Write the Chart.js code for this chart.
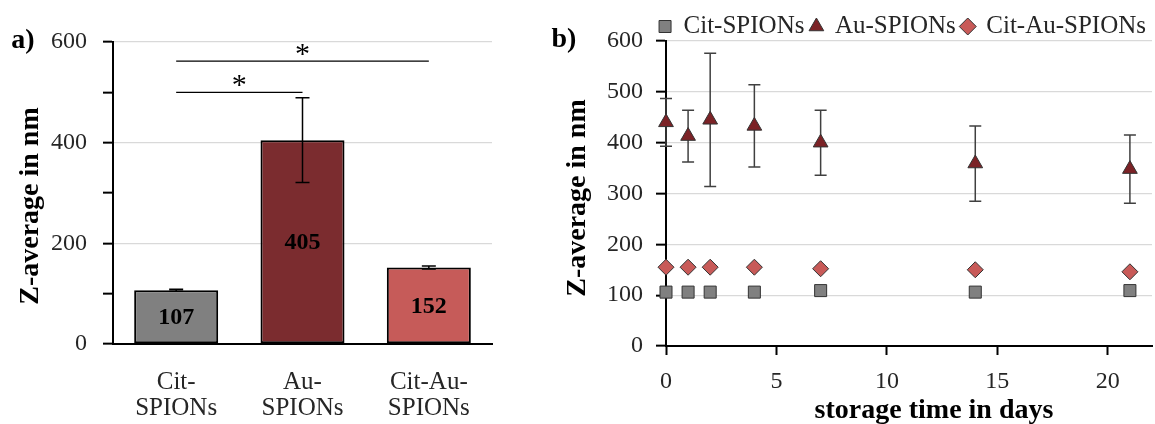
<!DOCTYPE html>
<html>
<head>
<meta charset="utf-8">
<script src="https://cdn.jsdelivr.net/npm/chart.js@4.4.1/dist/chart.umd.min.js"></script>
<style>
  html, body { margin: 0; padding: 0; background: #fff; overflow: hidden; }
  #wrap { position: relative; width: 1155px; height: 424px; }
  #panelA { position: absolute; left: 0; top: 0; width: 540px; height: 424px; }
  #panelB { position: absolute; left: 540px; top: 0; width: 615px; height: 424px; }
</style>
</head>
<body>
<div id="wrap">
  <div id="panelA"><canvas id="chartA"></canvas></div>
  <div id="panelB"><canvas id="chartB"></canvas></div>
</div>
<script>
const SERIF = '"Liberation Serif", "Times New Roman", serif';

// ---- panel a: mean hydrodynamic size per sample ----
const sampleNames = [['Cit-', 'SPIONs'], ['Au-', 'SPIONs'], ['Cit-Au-', 'SPIONs']];
const sampleMeans = [107, 405, 152];
const sampleErrors = [2, 84, 3];
const sampleColors = ['#808080', '#7b2c2f', '#c65b59'];
const barAxisLabels = [0, 200, 400, 600];
const significancePairs = [[0, 1], [0, 2]];
const significanceLevels = [500, 562];

// ---- panel b: size during storage ----
const storageDays = [0, 1, 2, 4, 7, 14, 21];
const citSeries = [106, 106, 106, 106, 109, 106, 109];
const auSeries = [440, 413, 445, 433, 400, 359, 348];
const auErrors = [47, 51, 131, 81, 64, 74, 67];
const citAuSeries = [155, 155, 155, 155, 152, 150, 146];
const seriesNames = ['Cit-SPIONs', 'Au-SPIONs', 'Cit-Au-SPIONs'];

const toPoints = (ys) => storageDays.map((d, i) => ({ x: d, y: ys[i] }));

// free text (panel letters, axis titles)
function captions(items) {
  return {
    id: 'captions',
    afterDraw(chart) {
      const ctx = chart.ctx;
      items.forEach(it => {
        ctx.save();
        ctx.font = it.font;
        ctx.fillStyle = '#000';
        ctx.textAlign = 'center';
        ctx.textBaseline = 'middle';
        ctx.translate(it.x, it.y);
        if (it.rot) ctx.rotate(it.rot);
        ctx.fillText(it.text, 0, 0);
        ctx.restore();
      });
    }
  };
}

const barExtras = {
  id: 'barExtras',
  afterDatasetsDraw(chart) {
    const ctx = chart.ctx;
    const xs = chart.scales.x, ys = chart.scales.y;
    const meta = chart.getDatasetMeta(0);
    ctx.save();
    // error bars
    ctx.strokeStyle = '#000';
    ctx.lineWidth = 1.5;
    meta.data.forEach((bar, i) => {
      const top = ys.getPixelForValue(sampleMeans[i] + sampleErrors[i]);
      const bot = ys.getPixelForValue(sampleMeans[i] - sampleErrors[i]);
      ctx.beginPath();
      ctx.moveTo(bar.x, top); ctx.lineTo(bar.x, bot);
      ctx.moveTo(bar.x - 7, top); ctx.lineTo(bar.x + 7, top);
      ctx.moveTo(bar.x - 7, bot); ctx.lineTo(bar.x + 7, bot);
      ctx.stroke();
    });
    // value labels inside the bars
    ctx.fillStyle = '#000';
    ctx.font = 'bold 24px ' + SERIF;
    ctx.textAlign = 'center';
    ctx.textBaseline = 'middle';
    meta.data.forEach((bar, i) => {
      ctx.fillText(String(sampleMeans[i]), bar.x, (bar.y + bar.base) / 2 + 1);
    });
    // significance brackets
    ctx.lineWidth = 1.3;
    ctx.font = '30px ' + SERIF;
    ctx.textBaseline = 'alphabetic';
    significancePairs.forEach((pair, k) => {
      const x1 = xs.getPixelForValue(pair[0]);
      const x2 = xs.getPixelForValue(pair[1]);
      const y = ys.getPixelForValue(significanceLevels[k]);
      ctx.beginPath();
      ctx.moveTo(x1, y); ctx.lineTo(x2, y);
      ctx.stroke();
      ctx.fillText('*', (x1 + x2) / 2, y + 2);
    });
    ctx.restore();
  }
};

new Chart(document.getElementById('chartA'), {
  type: 'bar',
  data: {
    labels: sampleNames,
    datasets: [{
      data: sampleMeans,
      backgroundColor: sampleColors,
      borderColor: '#000',
      borderWidth: 2,
      borderSkipped: false,
      barPercentage: 0.665,
      categoryPercentage: 1
    }]
  },
  options: {
    responsive: true,
    maintainAspectRatio: false,
    animation: false,
    layout: { autoPadding: false, padding: { top: 42, right: 48, left: 0, bottom: 0 } },
    plugins: { legend: { display: false }, tooltip: { enabled: false } },
    scales: {
      x: {
        grid: { display: false, drawTicks: false },
        border: { display: true, color: '#000', width: 2 },
        ticks: { font: { family: SERIF, size: 25, lineHeight: 1.05 }, color: '#262626', padding: 25, maxRotation: 0 },
        afterFit(s) { s.height = 80; }
      },
      y: {
        min: 0, max: 600,
        ticks: {
          stepSize: 100,
          callback: v => barAxisLabels.includes(v) ? v : '',
          font: { family: SERIF, size: 24 }, color: '#262626', padding: 16
        },
        grid: {
          color: c => (c.tick && c.tick.value > 0 && barAxisLabels.includes(c.tick.value)) ? '#d9d9d9' : 'rgba(0,0,0,0)',
          lineWidth: 1.3,
          tickColor: '#000', tickLength: 10, tickWidth: 2
        },
        border: { color: '#000', width: 2 },
        afterFit(s) { s.width = 113; }
      }
    }
  },
  plugins: [barExtras, captions([
    { text: 'a)', x: 23, y: 41, font: 'bold 28px ' + SERIF },
    { text: 'Z-average in nm', x: 31, y: 206, rot: -Math.PI / 2, font: 'bold 28px ' + SERIF }
  ])]
});

const auErrorBars = {
  id: 'auErrorBars',
  beforeDatasetsDraw(chart) {
    const ctx = chart.ctx;
    const xs = chart.scales.x, ys = chart.scales.y;
    ctx.save();
    ctx.strokeStyle = '#404040';
    ctx.lineWidth = 1.5;
    storageDays.forEach((d, i) => {
      const x = xs.getPixelForValue(d);
      const top = ys.getPixelForValue(auSeries[i] + auErrors[i]);
      const bot = ys.getPixelForValue(auSeries[i] - auErrors[i]);
      ctx.beginPath();
      ctx.moveTo(x, top); ctx.lineTo(x, bot);
      ctx.moveTo(x - 6, top); ctx.lineTo(x + 6, top);
      ctx.moveTo(x - 6, bot); ctx.lineTo(x + 6, bot);
      ctx.stroke();
    });
    ctx.restore();
  }
};

// the legend sits a little lower than its layout slot
const legendNudge = {
  id: 'legendNudge',
  afterLayout(chart) {
    if (chart.legend) { chart.legend.top += 8; chart.legend.bottom += 8; }
  }
};

const markerBase = { showLine: false, borderColor: '#333', pointBorderColor: '#333', pointBorderWidth: 1, borderWidth: 1, clip: false };

new Chart(document.getElementById('chartB'), {
  type: 'line',
  data: {
    datasets: [
      Object.assign({}, markerBase, {
        label: seriesNames[0], data: toPoints(citSeries),
        pointStyle: 'rect', pointRadius: 8.5,
        backgroundColor: '#808080', pointBackgroundColor: '#808080'
      }),
      Object.assign({}, markerBase, {
        label: seriesNames[1], data: toPoints(auSeries),
        pointStyle: 'triangle', pointRadius: 8.5,
        backgroundColor: '#7b2226', pointBackgroundColor: '#7b2226'
      }),
      Object.assign({}, markerBase, {
        label: seriesNames[2], data: toPoints(citAuSeries),
        pointStyle: 'rectRot', pointRadius: 8,
        backgroundColor: '#c85a58', pointBackgroundColor: '#c85a58'
      })
    ]
  },
  options: {
    responsive: true,
    maintainAspectRatio: false,
    animation: false,
    layout: { autoPadding: false, padding: { top: 0, right: 3, left: 0, bottom: 0 } },
    plugins: {
      tooltip: { enabled: false },
      legend: {
        position: 'top',
        align: 'end',
        labels: {
          usePointStyle: true, boxWidth: 12, boxHeight: 12, padding: 6,
          font: { family: SERIF, size: 25 }, color: '#262626'
        }
      }
    },
    scales: {
      x: {
        type: 'linear', min: 0, max: 22,
        ticks: { stepSize: 5, includeBounds: false, font: { family: SERIF, size: 24 }, color: '#262626', padding: 12 },
        grid: { drawOnChartArea: false, tickColor: '#000', tickLength: 9, tickWidth: 2 },
        border: { color: '#000', width: 2 },
        afterFit(s) { s.height = 78; }
      },
      y: {
        min: 0, max: 600,
        ticks: { stepSize: 100, font: { family: SERIF, size: 24 }, color: '#262626', padding: 13 },
        grid: {
          color: c => (c.tick && c.tick.value > 0) ? '#d9d9d9' : 'rgba(0,0,0,0)',
          lineWidth: 1.3,
          tickColor: '#000', tickLength: 10, tickWidth: 2
        },
        border: { color: '#000', width: 2 },
        afterFit(s) { s.width = 126; }
      }
    }
  },
  plugins: [auErrorBars, legendNudge, captions([
    { text: 'b)', x: 24, y: 40, font: 'bold 28px ' + SERIF },
    { text: 'Z-average in nm', x: 38, y: 198, rot: -Math.PI / 2, font: 'bold 28px ' + SERIF },
    { text: 'storage time in days', x: 394, y: 411, font: 'bold 28px ' + SERIF }
  ])]
});
</script>
</body>
</html>
